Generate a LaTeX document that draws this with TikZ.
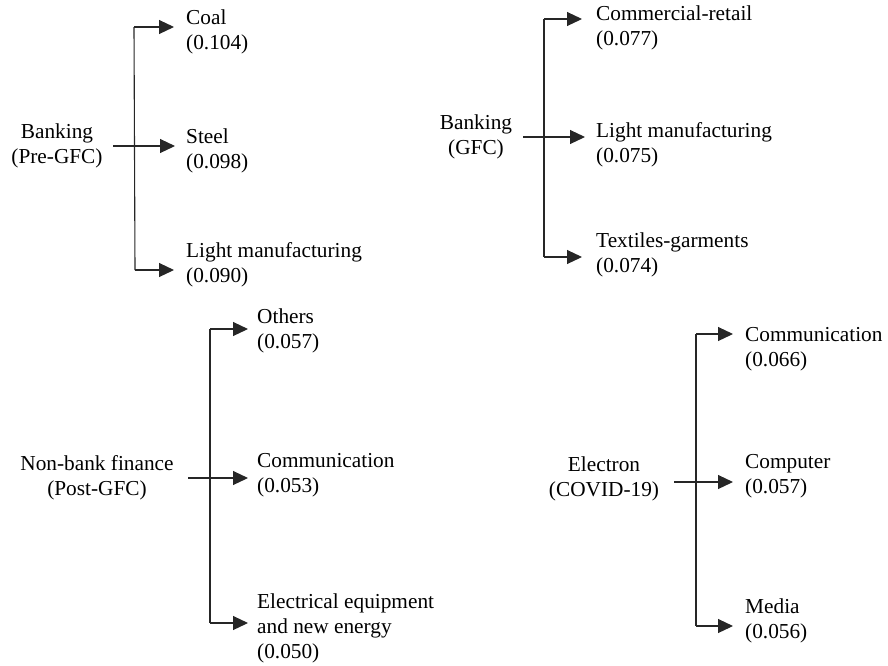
\documentclass[tikz,border=0pt]{standalone}
\usepackage{fontspec}
\setmainfont{Liberation Serif}
\usetikzlibrary{arrows.meta}
\begin{document}
\begin{tikzpicture}[x=1pt,y=-1pt,
  lbl/.style={inner sep=0pt,font=\fontsize{21.3}{25}\selectfont},
  src/.style={lbl,align=center,anchor=center},
  tgt/.style={lbl,align=left,anchor=west},
  ln/.style={line width=1.1pt,black!85},
  arr/.style={ln,-{Triangle[length=15pt,width=14pt]}}]
\useasboundingbox (0,0) rectangle (888,665);
% Panel 1
\node[src] (s1) at (57,146.3) {Banking\\(Pre-GFC)};
\node[tgt] (t11) at (186,32.3) {Coal\\(0.104)};
\node[tgt] (t12) at (186,151.3) {Steel\\(0.098)};
\node[tgt] (t13) at (186,264.3) {Light manufacturing\\(0.090)};
\coordinate (h1) at (113,146);
\coordinate (j1t) at (134,27);
\coordinate (j1b) at (135,270);
\coordinate (e11) at (174,27);
\coordinate (e12) at (175,146);
\coordinate (e13) at (174,270);
\draw[ln] (j1t) -- (j1b);
\draw[arr] (j1t) -- (e11);
\draw[arr] (h1) -- (e12);
\draw[arr] (j1b) -- (e13);
% Panel 2
\node[src] (s2) at (476,137) {Banking\\(GFC)};
\node[tgt] (t21) at (596,28.3) {Commercial-retail\\(0.077)};
\node[tgt] (t22) at (596,144.3) {Light manufacturing\\(0.075)};
\node[tgt] (t23) at (596,255.3) {Textiles-garments\\(0.074)};
\coordinate (h2) at (523,137);
\coordinate (j2t) at (544,19);
\coordinate (j2b) at (544,257);
\coordinate (e21) at (582,19);
\coordinate (e22) at (585,137);
\coordinate (e23) at (582,257);
\draw[ln] (j2t) -- (j2b);
\draw[arr] (j2t) -- (e21);
\draw[arr] (h2) -- (e22);
\draw[arr] (j2b) -- (e23);
% Panel 3
\node[src] (s3) at (97,477.3) {Non-bank finance\\(Post-GFC)};
\node[tgt] (t31) at (257,331.3) {Others\\(0.057)};
\node[tgt] (t32) at (257,475.3) {Communication\\(0.053)};
\node[tgt] (t33) at (257,628.3) {Electrical equipment\\and new energy\\(0.050)};
\coordinate (h3) at (188,478);
\coordinate (j3t) at (210,329);
\coordinate (j3b) at (210,623);
\coordinate (e31) at (248,329);
\coordinate (e32) at (248,478);
\coordinate (e33) at (248,623);
\draw[ln] (j3t) -- (j3b);
\draw[arr] (j3t) -- (e31);
\draw[arr] (h3) -- (e32);
\draw[arr] (j3b) -- (e33);
% Panel 4
\node[src] (s4) at (604,479.3) {Electron\\(COVID-19)};
\node[tgt] (t41) at (745,349.3) {Communication\\(0.066)};
\node[tgt] (t42) at (745,476.3) {Computer\\(0.057)};
\node[tgt] (t43) at (745,621.3) {Media\\(0.056)};
\coordinate (h4) at (674,482);
\coordinate (j4t) at (696,334);
\coordinate (j4b) at (696,626);
\coordinate (e41) at (733,334);
\coordinate (e42) at (733,482);
\coordinate (e43) at (733,626);
\draw[ln] (j4t) -- (j4b);
\draw[arr] (j4t) -- (e41);
\draw[arr] (h4) -- (e42);
\draw[arr] (j4b) -- (e43);
\end{tikzpicture}
\end{document}
